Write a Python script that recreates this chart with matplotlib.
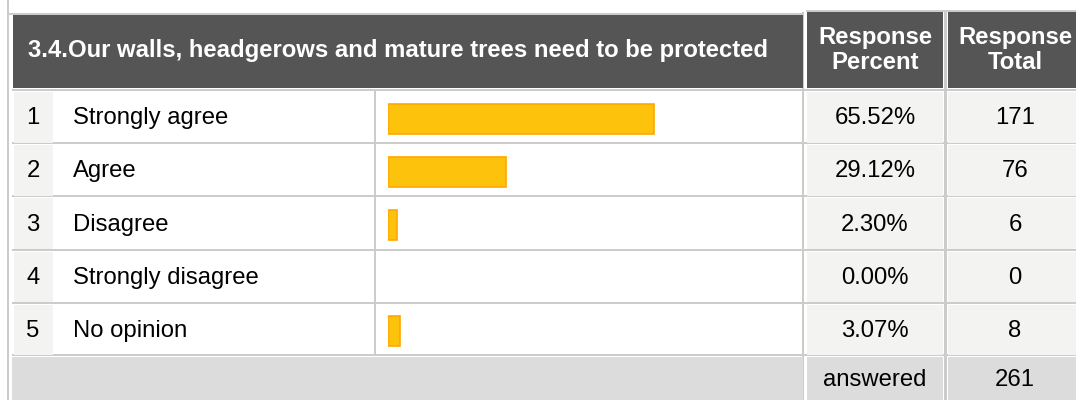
import matplotlib
matplotlib.use("Agg")
import matplotlib.pyplot as plt
from matplotlib.patches import Rectangle

title = "3.4.Our walls, headgerows and mature trees need to be protected"
row_ids = ["1", "2", "3", "4", "5"]
answers = ["Strongly agree", "Agree", "Disagree", "Strongly disagree", "No opinion"]
percents = [65.52, 29.12, 2.30, 0.00, 3.07]
totals = [171, 76, 6, 0, 8]
answered = 261

W, H = 1076, 400
HEAD_BG = "#555555"
GRID = "#cccccc"
LIGHT = "#f3f3f2"
FOOT_BG = "#dcdcdc"
BAR_FILL = "#fdc20b"
BAR_EDGE = "#ffa800"
FONT = "Liberation Sans"
FS = 17.2

row_top0 = 92
row_pitch = 53.2
row_h = 50.5
foot_top = 357

fig = plt.figure(figsize=(W / 100, H / 100), dpi=100)
ax = fig.add_axes([0, 0, 1, 1])
ax.set_xlim(0, W)
ax.set_ylim(H, 0)
ax.axis("off")


def box(x, y, w, h, color, z=1):
    ax.add_patch(Rectangle((x, y), w, h, facecolor=color, edgecolor="none", zorder=z))


# grid lines
box(7, 0, 2, H, GRID)
box(9, 13, 795, 2, GRID)
box(806, 10, 140, 2, GRID)
box(946, 10, 130, 2, GRID)
for i in range(len(answers) + 1):
    top = row_top0 + i * row_pitch if i < len(answers) else foot_top
    box(12, top - 3, W - 12, 2, GRID)
box(374, row_top0 - 2, 2, foot_top - row_top0, GRID)
box(802, 12, 2, H, GRID)
box(944, 12, 3, H, GRID)

# header
box(13, 15, 790, 73, HEAD_BG, 2)
box(807, 12, 136, 76, HEAD_BG, 2)
box(948, 12, 128, 76, HEAD_BG, 2)
ax.text(28, 51, title, color="white", fontsize=FS, fontweight="bold",
        family=FONT, ha="left", va="center", zorder=3)
ax.text(875, 50, "Response\nPercent", color="white", fontsize=FS, fontweight="bold",
        family=FONT, ha="center", va="center", linespacing=1.08, zorder=3)
ax.text(1015, 50, "Response\nTotal", color="white", fontsize=FS, fontweight="bold",
        family=FONT, ha="center", va="center", linespacing=1.08, zorder=3)

# body rows
for i, (rid, ans, pct, tot) in enumerate(zip(row_ids, answers, percents, totals)):
    top = row_top0 + i * row_pitch
    cy = top + row_h / 2 + 1
    box(14, top, 39, row_h, LIGHT, 2)
    box(807, top, 136, row_h, LIGHT, 2)
    box(948, top, 128, row_h, LIGHT, 2)
    ax.text(33, cy, rid, fontsize=FS, family=FONT, ha="center", va="center", zorder=3)
    ax.text(73, cy, ans, fontsize=FS, family=FONT, ha="left", va="center", zorder=3)
    ax.text(875, cy, "%.2f%%" % pct, fontsize=FS, family=FONT, ha="center", va="center", zorder=3)
    ax.text(1015, cy, str(tot), fontsize=FS, family=FONT, ha="center", va="center", zorder=3)

# footer
box(12, foot_top, 791, H - foot_top, FOOT_BG, 2)
box(807, foot_top, 136, H - foot_top, FOOT_BG, 2)
box(948, foot_top, 128, H - foot_top, FOOT_BG, 2)
fy = foot_top + (H - foot_top) / 2 + 2
ax.text(875, fy, "answered", fontsize=FS, family=FONT, ha="center", va="center", zorder=3)
ax.text(1015, fy, str(answered), fontsize=FS, family=FONT, ha="center", va="center", zorder=3)

# bars on their own axes: 0..100 % across the bar column
span_h = row_pitch * len(answers)
bax = fig.add_axes([388 / W, 1 - (row_top0 + span_h) / H, 406 / W, span_h / H])
bax.set_xlim(0, 100)
bax.set_ylim(len(answers) - 0.5, -0.5)
bax.axis("off")
edges = [BAR_EDGE if p > 0 else "none" for p in percents]
bax.barh(range(len(answers)), percents, height=30 / row_pitch, left=0,
         color=BAR_FILL, edgecolor=edges, linewidth=1.2)

fig.savefig("out.png", dpi=100)
